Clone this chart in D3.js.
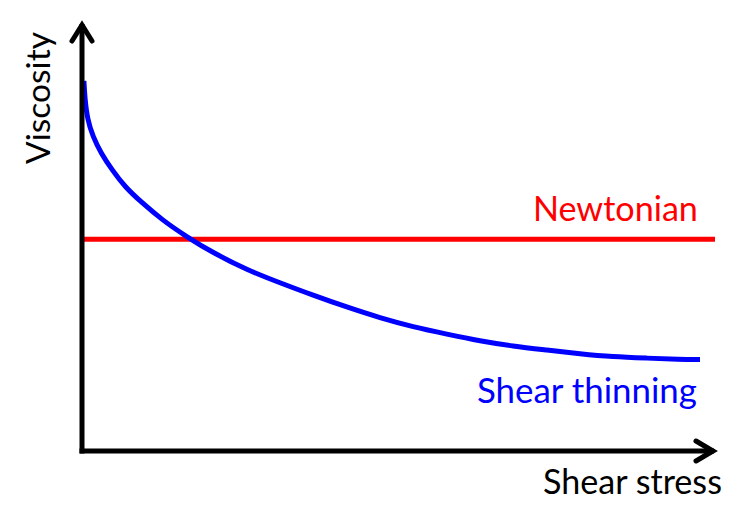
<!DOCTYPE html>
<html>
<head>
<meta charset="utf-8">
<script src="https://cdn.jsdelivr.net/npm/d3@7"></script>
<style>
  html, body { margin: 0; padding: 0; background: #fff; }
  svg { display: block; }
  text { font-family: Lato, "Open Sans", sans-serif; }
</style>
</head>
<body>
<svg id="chart" width="747" height="528"></svg>
<script>
// Data (arbitrary units: shear stress 0..100, viscosity 0..100)
const shearStress = [0.3, 0.45, 0.85, 1.74, 3.0, 4.74, 6.79, 9.48, 12.64, 16.59, 20.7, 26.07, 31.28, 36.49, 41.86, 47.08, 52.29, 57.66, 62.88, 68.09, 73.46, 78.67, 83.89, 89.26, 94.47, 97.63];
const thinningViscosity = [86.5, 82.5, 77.5, 73.4, 69.6, 65.7, 61.7, 58.0, 54.0, 50.0, 46.3, 42.3, 39.3, 36.4, 33.6, 31.1, 29.0, 27.3, 25.7, 24.5, 23.6, 22.7, 22.0, 21.7, 21.4, 21.4];
const newtonianStress = [0, 100];
const newtonianViscosity = [49.5, 49.5];
const labels = { x: "Shear stress", y: "Viscosity", newtonian: "Newtonian", thinning: "Shear thinning" };

const svg = d3.select("#chart");
const x = d3.scaleLinear().domain([0, 100]).range([82, 715]);
const y = d3.scaleLinear().domain([0, 100]).range([451, 23]);

const straight = d3.line().x(d => x(d[0])).y(d => y(d[1]));
const smooth = d3.line().x(d => x(d[0])).y(d => y(d[1])).curve(d3.curveBasis);

// Newtonian line
svg.append("path")
  .datum(newtonianStress.map((s, i) => [s, newtonianViscosity[i]]))
  .attr("d", straight)
  .attr("fill", "none").attr("stroke", "#ff0000").attr("stroke-width", 5);

// Shear thinning curve
svg.append("path")
  .datum(shearStress.map((s, i) => [s, thinningViscosity[i]]))
  .attr("d", smooth)
  .attr("fill", "none").attr("stroke", "#0000ff").attr("stroke-width", 5)
  .attr("stroke-linecap", "butt");

// Axes
const ax = svg.append("g").attr("stroke", "#000").attr("stroke-width", 5).attr("fill", "none");
ax.append("path").attr("d", `M${x(0)},${y(0)+2.5}L${x(0)},${y(100)+1}`);
ax.append("path").attr("d", `M${x(0)-2.5},${y(0)}L${x(100)-1},${y(0)}`);
// Arrowheads
ax.append("path").attr("stroke-linecap", "round").attr("stroke-linejoin", "miter")
  .attr("d", `M${x(0)-10},${y(100)+18}L${x(0)},${y(100)+2}L${x(0)+10},${y(100)+18}`);
ax.append("path").attr("stroke-linecap", "round").attr("stroke-linejoin", "miter")
  .attr("d", `M${x(100)-19},${y(0)-10}L${x(100)-2},${y(0)}L${x(100)-19},${y(0)+10}`);

function fitText(sel, targetWidth) {
  const w = sel.node().getComputedTextLength();
  const fs = parseFloat(sel.attr("font-size"));
  sel.attr("font-size", fs * targetWidth / w);
}

// Labels
const tX = svg.append("text").attr("x", 543).attr("y", 494).attr("font-size", 30).attr("fill", "#000").text(labels.x);
fitText(tX, 179);
const tY = svg.append("text").attr("transform", "translate(50,98) rotate(-90)").attr("text-anchor", "middle")
  .attr("font-size", 30).attr("fill", "#000").text(labels.y);
fitText(tY, 132);
const tN = svg.append("text").attr("x", 533).attr("y", 221).attr("font-size", 30).attr("fill", "#ff0000").text(labels.newtonian);
fitText(tN, 165);
const tS = svg.append("text").attr("x", 477).attr("y", 403).attr("font-size", 30).attr("fill", "#0000ff").text(labels.thinning);
fitText(tS, 220);
</script>
</body>
</html>
